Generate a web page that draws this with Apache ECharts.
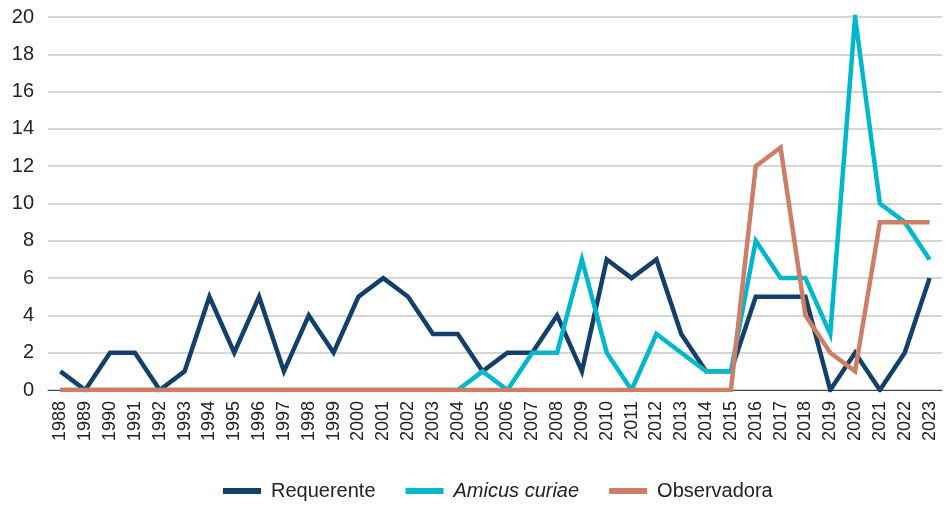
<!DOCTYPE html>
<html>
<head>
<meta charset="utf-8">
<script src="https://cdn.jsdelivr.net/npm/echarts@6/dist/echarts.min.js"></script>
<style>
  html, body { margin: 0; padding: 0; background: #fff; }
  #chart { width: 946px; height: 505px; }
</style>
</head>
<body>
<div id="chart"></div>
<script>
// Years on the horizontal axis
const years = [
  '1988','1989','1990','1991','1992','1993','1994','1995','1996','1997',
  '1998','1999','2000','2001','2002','2003','2004','2005','2006','2007',
  '2008','2009','2010','2011','2012','2013','2014','2015','2016','2017',
  '2018','2019','2020','2021','2022','2023'
];

// Counts per year for each role
const requerente = [1,0,2,2,0,1,5,2,5,1,4,2,5,6,5,3,3,1,2,2,4,1,7,6,7,3,1,1,5,5,5,0,2,0,2,6];
const amicusCuriae = [0,0,0,0,0,0,0,0,0,0,0,0,0,0,0,0,0,1,0,2,2,7,2,0,3,2,1,1,8,6,6,3,20,10,9,7];
const observadora = [0,0,0,0,0,0,0,0,0,0,0,0,0,0,0,0,0,0,0,0,0,0,0,0,0,0,0,0,12,13,4,2,1,9,9,9];

const seriesNames = ['Requerente', 'Amicus curiae', 'Observadora'];
const seriesColors = ['#123f6b', '#00b8cb', '#cf7e66'];

const font = '"Liberation Sans", Arial, sans-serif';
const textColor = '#222';

const chart = echarts.init(document.getElementById('chart'), null, { renderer: 'canvas' });

const makeLine = (name, data, color) => ({
  name: name,
  type: 'line',
  data: data,
  symbol: 'none',
  lineStyle: { color: color, width: 4.5, join: 'miter' },
  itemStyle: { color: color },
  animation: false
});

chart.setOption({
  animation: false,
  grid: { left: 48, right: 4, top: 17, bottom: 115 },
  legend: {
    top: 476,
    left: 218,
    itemWidth: 38,
    itemHeight: 6,
    itemGap: 30,
    icon: 'rect',
    data: seriesNames,
    formatter: (name) => name === 'Amicus curiae' ? '{i|' + name + '}' : '{n|' + name + '}',
    textStyle: {
      fontFamily: font,
      fontSize: 20,
      color: textColor,
      rich: {
        n: { fontFamily: font, fontSize: 20, color: textColor, padding: [0, 0, 0, 5] },
        i: { fontStyle: 'italic', fontFamily: font, fontSize: 20, color: textColor, padding: [0, 0, 0, 5] }
      }
    }
  },
  xAxis: {
    type: 'category',
    data: years,
    boundaryGap: true,
    axisLine: { show: true, lineStyle: { color: '#444', width: 1 } },
    axisTick: { show: false },
    axisLabel: {
      rotate: 90,
      interval: 0,
      margin: 11,
      fontFamily: font,
      fontSize: 18,
      color: textColor
    }
  },
  yAxis: {
    type: 'value',
    min: 0,
    max: 20,
    interval: 2,
    axisLine: { show: false },
    axisTick: { show: false },
    splitLine: { lineStyle: { color: '#c8c8c8', width: 1.5 } },
    axisLabel: {
      margin: 14,
      fontFamily: font,
      fontSize: 20,
      color: textColor
    }
  },
  series: [
    makeLine(seriesNames[0], requerente, seriesColors[0]),
    makeLine(seriesNames[1], amicusCuriae, seriesColors[1]),
    makeLine(seriesNames[2], observadora, seriesColors[2])
  ]
});
</script>
</body>
</html>
